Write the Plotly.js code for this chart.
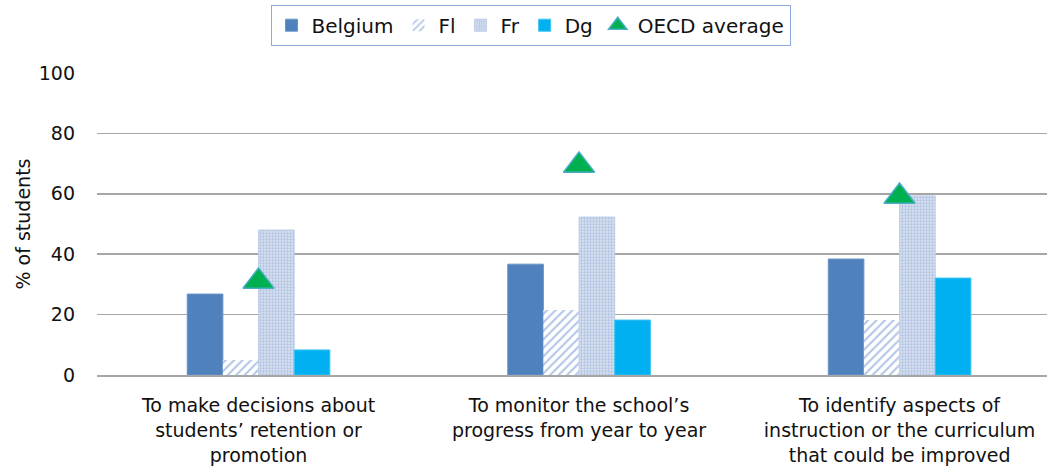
<!DOCTYPE html>
<html>
<head>
<meta charset="utf-8">
<script src="https://cdn.plot.ly/plotly-3.0.1.min.js"></script>
<style>
  html, body { margin: 0; padding: 0; background: #ffffff; }
  #chart { width: 1047px; height: 470px; }
</style>
</head>
<body>
<div id="chart"></div>
<script>
// Purposes of assessment, share of students (%)
const categories = [
  "To make decisions about<br>students’ retention or<br>promotion",
  "To monitor the school’s<br>progress from year to year",
  "To identify aspects of<br>instruction or the curriculum<br>that could be improved"
];
const belgium = [26.8, 36.7, 38.4];
const flemish = [5.0, 21.5, 18.2];
const french  = [48.0, 52.3, 59.3];
const german  = [8.3, 18.2, 32.1];
const oecdAvg = [31.0, 69.4, 59.1];
const yTicks  = [0, 20, 40, 60, 80, 100];

const textFont = { family: "DejaVu Sans, sans-serif", size: 19, color: "#111111" };

const traces = [
  {
    type: "bar", name: "Belgium", x: categories, y: belgium,
    marker: { color: "#4f81bd", line: { color: "#6a95c8", width: 1 } }
  },
  {
    type: "bar", name: "Fl", x: categories, y: flemish,
    marker: {
      color: "#ffffff",
      line: { width: 0 },
      pattern: { shape: "/", fgcolor: "#b3c6e5", bgcolor: "#ffffff", size: 6, solidity: 0.35, fillmode: "replace" }
    }
  },
  {
    type: "bar", name: "Fr", x: categories, y: french,
    marker: {
      color: "#d6dff0",
      line: { color: "#bfcde8", width: 1 },
      pattern: { shape: ".", fgcolor: "#b0c2e1", bgcolor: "#d9e2f1", size: 3, solidity: 0.45, fillmode: "replace" }
    }
  },
  {
    type: "bar", name: "Dg", x: categories, y: german,
    marker: { color: "#00b0f0", line: { color: "#3fc3f3", width: 1 } }
  },
  {
    type: "scatter", mode: "markers", name: "OECD average", x: categories, y: oecdAvg,
    marker: { symbol: "triangle-up", size: 27, color: "#00b050", line: { color: "#4bacc6", width: 1.5 } }
  }
];

const layout = {
  width: 1047, height: 470,
  margin: { l: 97, r: 0, t: 73, b: 95 },
  paper_bgcolor: "#ffffff", plot_bgcolor: "#ffffff",
  font: textFont,
  barmode: "group",
  bargap: 0.555,
  bargroupgap: 0,
  showlegend: true,
  legend: {
    orientation: "h",
    x: 0.5067, xref: "container", xanchor: "center",
    y: 0.99, yref: "container", yanchor: "top",
    bordercolor: "#8eaadb", borderwidth: 1,
    bgcolor: "#ffffff",
    font: { family: "DejaVu Sans, sans-serif", size: 20, color: "#111111" },
    itemwidth: 30,
    traceorder: "normal"
  },
  xaxis: {
    type: "category",
    range: [-0.504, 2.46],
    showgrid: false,
    showline: true, linecolor: "#a6a6a6", linewidth: 1.5,
    ticks: "", ticklabelstandoff: 13,
    tickfont: textFont,
    fixedrange: true
  },
  yaxis: {
    range: [0, 100],
    tickvals: yTicks,
    ticktext: yTicks.map(String),
    showgrid: true, gridcolor: "#a6a6a6", gridwidth: 1.5,
    zeroline: false, showline: false,
    ticks: "", ticklabelstandoff: 21,
    tickfont: textFont,
    title: { text: "% of students", font: textFont, standoff: 3 },
    fixedrange: true
  }
};

Plotly.newPlot("chart", traces, layout, { staticPlot: true, displayModeBar: false });
</script>
</body>
</html>
